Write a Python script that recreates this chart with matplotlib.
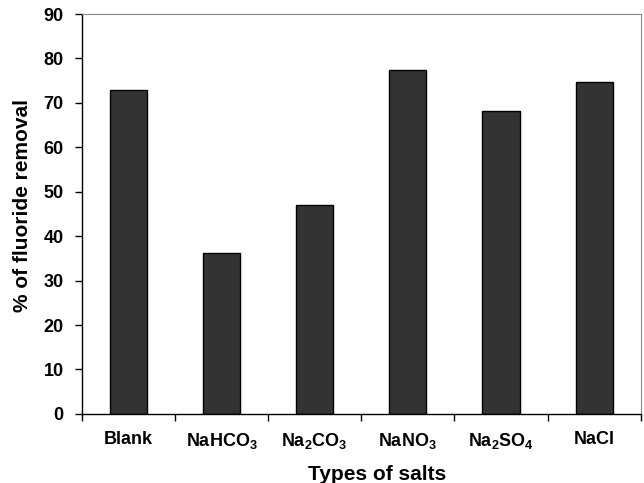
import numpy as np
import matplotlib.pyplot as plt
from matplotlib.ticker import FixedLocator

plt.rcParams['font.family'] = ['Liberation Sans', 'DejaVu Sans']
plt.rcParams['font.weight'] = 'bold'
plt.rcParams['mathtext.default'] = 'regular'

salts = ['Blank', 'NaHCO$_3$', 'Na$_2$CO$_3$', 'NaNO$_3$', 'Na$_2$SO$_4$', 'NaCl']
removal = [72.8, 36.3, 47.1, 77.5, 68.2, 74.6]

fig, ax = plt.subplots(figsize=(6.44, 4.83), dpi=100)
fig.subplots_adjust(left=0.127, right=0.995, top=0.971, bottom=0.143)

x = np.arange(len(salts))
ax.bar(x, removal, width=0.4, color='#333333', edgecolor='black', linewidth=1.0)

ax.set_xlim(-0.5, len(salts) - 0.5)
ax.set_ylim(0, 90)
ax.set_yticks(range(0, 91, 10))
ax.set_xticks(x)
ax.set_xticklabels(salts)
ax.xaxis.set_minor_locator(FixedLocator(np.arange(-0.5, len(salts), 1.0)))
ax.tick_params(axis='x', which='major', length=0, pad=12, labelsize=13)
ax.tick_params(axis='x', which='minor', length=5, width=1, direction='out')
ax.tick_params(axis='y', length=5, width=1, direction='out', labelsize=13, pad=8)

for s in ['top', 'right']:
    ax.spines[s].set_color('#888888')
    ax.spines[s].set_linewidth(0.8)
for s in ['left', 'bottom']:
    ax.spines[s].set_linewidth(1.0)

ax.set_xlabel('Types of salts', fontsize=15, fontweight='bold')
ax.set_ylabel('% of fluoride removal', fontsize=15, fontweight='bold')
ax.xaxis.set_label_coords(0.528, -0.128)
ax.yaxis.set_label_coords(-0.089, 0.521)

plt.savefig('out.png', dpi=100)
